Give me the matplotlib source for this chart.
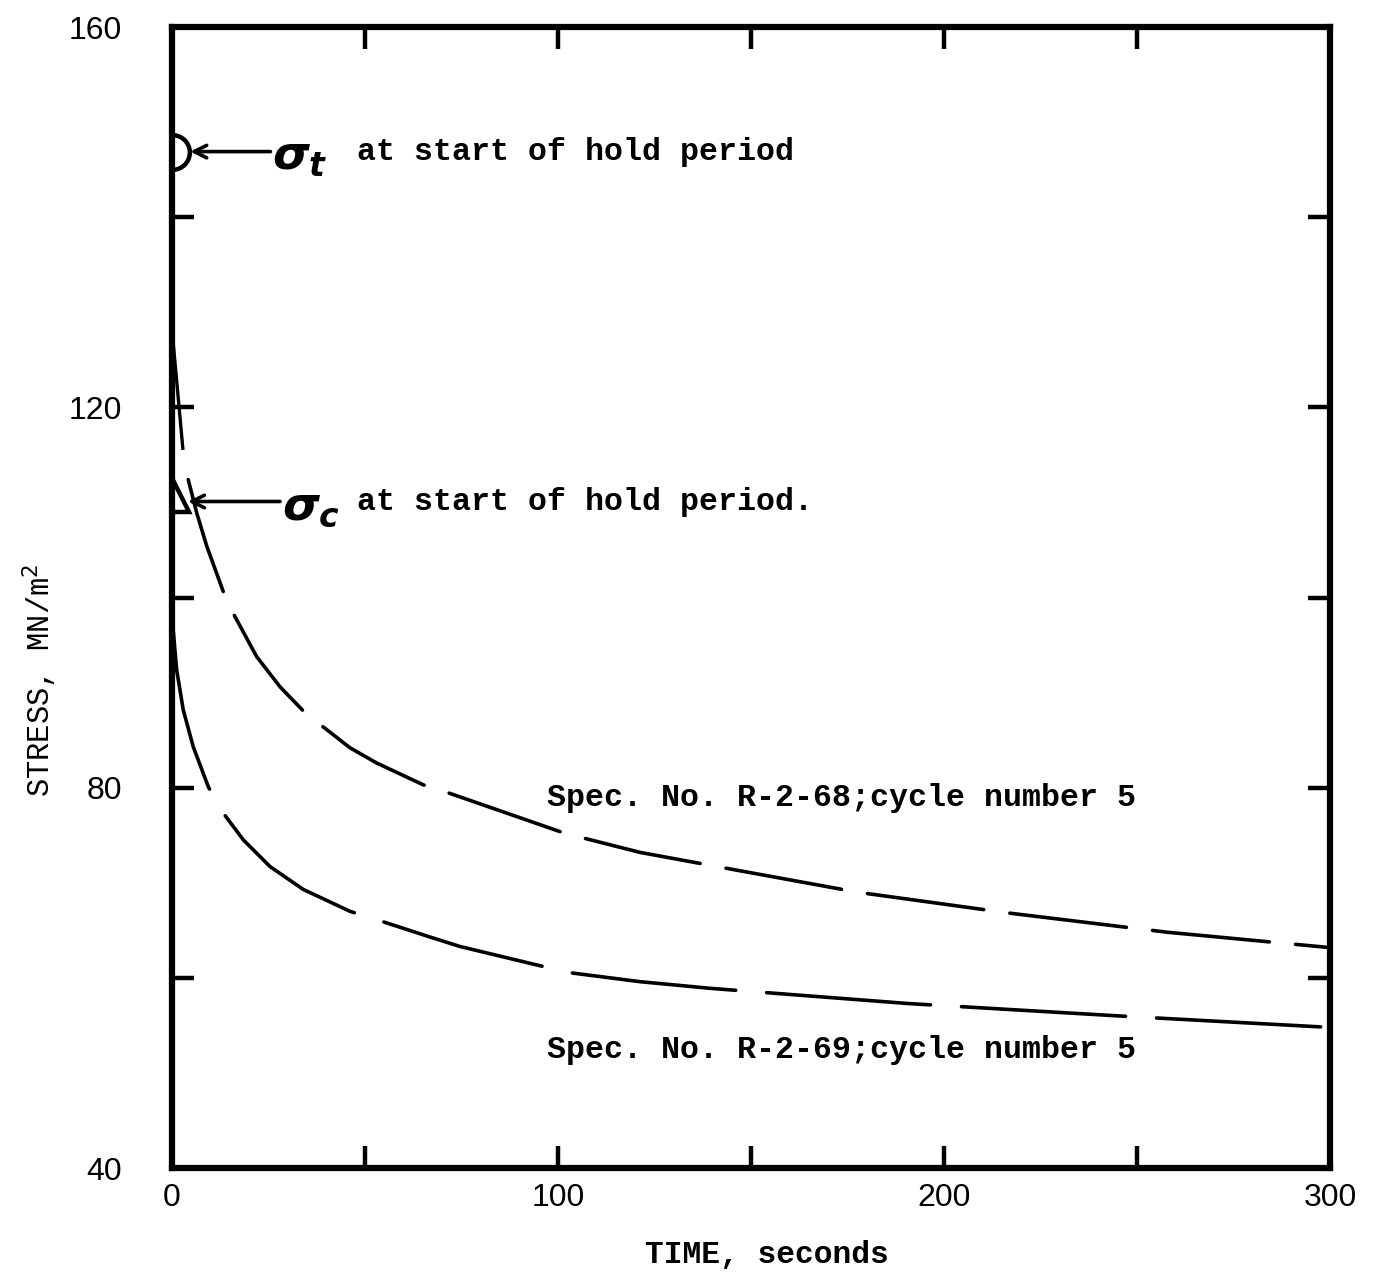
import matplotlib
matplotlib.use("Agg")
import matplotlib.pyplot as plt

plt.rcParams["mathtext.fontset"] = "custom"
plt.rcParams["mathtext.it"] = "DejaVu Sans:italic:bold"
plt.rcParams["mathtext.rm"] = "DejaVu Sans"

# relaxation curves during the hold period (time in s, stress in MN/m^2)
t_r268 = [4.2, 6.4, 9.0, 13.3, 16.3, 21.9, 28.0, 34.9, 40.1, 46.1, 53.0,
          65.1, 72.0, 101.8, 121.2, 145.3, 177.7, 217.1, 257.8, 299.5]
s_r268 = [112.4, 108.9, 105.4, 100.6, 98.0, 93.8, 90.6, 87.7, 86.1, 84.2,
          82.6, 80.3, 79.4, 75.2, 73.2, 71.4, 69.0, 66.8, 64.8, 63.2]

t_r269 = [0.3, 1.2, 2.9, 5.5, 9.4, 12.4, 18.5, 25.4, 34.0, 46.1, 54.7, 66.8,
          74.6, 96.1, 103.9, 121.2, 139.4, 190.7, 245.1, 299.5]
s_r269 = [96.6, 92.4, 88.2, 84.3, 80.1, 77.8, 74.5, 71.7, 69.3, 67.0, 65.9,
          64.3, 63.3, 61.2, 60.5, 59.6, 58.9, 57.3, 56.0, 54.8]

# short initial trace near t = 0
t_init = [0.3, 2.8]
s_init = [126.8, 115.7]

# stresses at start of hold period
sigma_t = 146.9
sigma_c = 110.8

label_r268 = "Spec. No. R-2-68;cycle number 5"
label_r269 = "Spec. No. R-2-69;cycle number 5"
note = "at start of hold period"

mono = "Liberation Mono"

fig = plt.figure(figsize=(13.85, 12.75), dpi=100)
ax = fig.add_axes([0.1242, 0.0839, 0.8361, 0.8949])

ax.plot(t_r268, s_r268, color="black", lw=2.6,
        linestyle=(0, (32.5, 7.3)), solid_capstyle="round",
        dash_capstyle="round")
ax.plot(t_r269, s_r269, color="black", lw=2.6,
        linestyle=(0, (45.5, 8.6)), solid_capstyle="round",
        dash_capstyle="round")
ax.plot(t_init, s_init, color="black", lw=2.4)

ax.plot([0], [sigma_t], marker="o", ms=25, mfc="none", mec="black", mew=3.2,
        linestyle="none")
ax.plot([0], [sigma_c], marker="^", ms=25, mfc="none", mec="black", mew=3.2,
        linestyle="none")

arrow = dict(arrowstyle="->,head_length=0.9,head_width=0.45", color="black",
             lw=2.6, shrinkA=0, shrinkB=0)
ax.annotate("", xy=(4.7, sigma_t), xytext=(25.5, sigma_t), arrowprops=arrow)
ax.annotate("", xy=(4.1, sigma_c - 0.7), xytext=(28.0, sigma_c - 0.7),
            arrowprops=arrow)

ax.text(25.8, sigma_t - 0.6, r"$\sigma_t$", fontsize=34, ha="left",
        va="center")
ax.text(28.5, sigma_c - 1.3, r"$\sigma_c$", fontsize=34, ha="left",
        va="center")

ax.text(47.9, sigma_t, note, family=mono, fontweight="bold", fontsize=22.8,
        ha="left", va="center")
ax.text(47.9, sigma_c - 0.8, note + ".", family=mono, fontweight="bold",
        fontsize=22.8, ha="left", va="center")

ax.text(97.2, 78.9, label_r268, family=mono, fontweight="bold", fontsize=22.8,
        ha="left", va="center")
ax.text(97.2, 52.4, label_r269, family=mono, fontweight="bold", fontsize=22.8,
        ha="left", va="center")

ax.set_xlim(0, 300)
ax.set_ylim(40, 160)
ax.set_xticks(range(0, 301, 50))
ax.set_xticklabels(["0", "", "100", "", "200", "", "300"])
ax.set_yticks(range(40, 161, 20))
ax.set_yticklabels(["40", "", "80", "", "120", "", "160"])

ax.tick_params(direction="in", length=16, width=3.2, top=True, right=True,
               labelsize=23)
ax.tick_params(axis="y", pad=36)
ax.tick_params(axis="x", pad=11)
for lab in ax.get_xticklabels() + ax.get_yticklabels():
    lab.set_family("Liberation Sans")

for sp in ax.spines.values():
    sp.set_linewidth(4.5)

fig.text(767 / 1385, 1 - 1255 / 1275, "TIME, seconds", family=mono,
         fontsize=22.5, fontweight="bold", ha="center", va="center")
fig.text(40 / 1385, 1 - 680 / 1275, r"STRESS, MN/m$^2$", family=mono,
         fontsize=22, rotation=90, ha="center", va="center")

fig.savefig("out.png", dpi=100)
